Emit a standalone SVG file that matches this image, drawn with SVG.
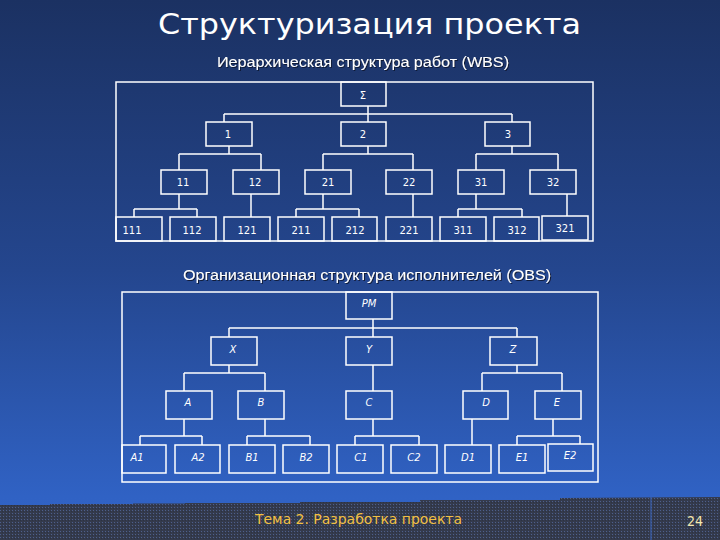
<svg xmlns="http://www.w3.org/2000/svg" width="720" height="540" viewBox="0 0 720 540">
<defs>
<linearGradient id="bg" x1="0" y1="0" x2="0" y2="1">
<stop offset="0" stop-color="#1b3162"/>
<stop offset="0.5" stop-color="#24468e"/>
<stop offset="0.92" stop-color="#3062c4"/>
<stop offset="1" stop-color="#3264c8"/>
</linearGradient>
<pattern id="dots" width="3" height="3" patternUnits="userSpaceOnUse">
<rect width="3" height="3" fill="#343a4c"/>
<rect x="0" y="0" width="1" height="1" fill="#4d5f8c"/>
<rect x="2" y="1" width="1" height="1" fill="#2c3242"/>
</pattern>
<filter id="sh" x="-5%" y="-30%" width="110%" height="160%">
<feDropShadow dx="1" dy="1" stdDeviation="0.3" flood-color="#0a1530" flood-opacity="0.9"/>
</filter>
</defs>
<style>
.box{fill:none;stroke:#ffffff;stroke-width:1.5}
.ln{fill:none;stroke:#ffffff;stroke-width:1.5}
.t{font-family:"DejaVu Sans",sans-serif;font-size:10px;fill:#ffffff;text-anchor:middle}
.ti{font-family:"DejaVu Sans",sans-serif;font-size:10px;fill:#ffffff;text-anchor:middle;font-style:italic}
.sub{font-family:"Liberation Sans",Arial,sans-serif;font-size:14px;fill:#ffffff;filter:url(#sh)}
</style>
<rect width="720" height="540" fill="url(#bg)"/>
<polygon points="0,505 50,505 50,504 133,504 133,503.5 185,503.5 185,503 300,503 300,502 420,502 420,500 560,500 560,498 720,497 720,540 0,540" fill="url(#dots)"/>
<line x1="651" y1="497" x2="651" y2="540" stroke="#3a66c0" stroke-width="1"/>

<text x="158" y="34" font-family="DejaVu Sans,sans-serif" font-size="28" fill="#ffffff" textLength="423" lengthAdjust="spacingAndGlyphs">Структуризация проекта</text>
<text class="sub" x="217" y="67" textLength="292" lengthAdjust="spacingAndGlyphs">Иерархическая структура работ  (WBS)</text>
<text class="sub" x="183" y="280" textLength="368" lengthAdjust="spacingAndGlyphs">Организационная структура исполнителей  (OBS)</text>

<text x="255" y="524" font-family="DejaVu Sans,sans-serif" font-size="13.5" fill="#f2c043" textLength="207" lengthAdjust="spacingAndGlyphs">Тема 2. Разработка проекта</text>
<text x="687" y="526" font-family="DejaVu Sans,sans-serif" font-size="14" fill="#f4e8b0" textLength="16" lengthAdjust="spacingAndGlyphs">24</text>

<g id="wbs-frame"><rect class="box" x="116" y="82" width="477" height="159"/></g>

<g id="connectors">
<path class="ln" d="M368,106 V114 M224,114 H512 M224,114 V122 M368,114 V122 M512,114 V122"/>
<path class="ln" d="M229,146 V154 M179,154 H261 M179,154 V170 M261,154 V170"/>
<path class="ln" d="M368,146 V154 M323,154 H413 M323,154 V170 M413,154 V170"/>
<path class="ln" d="M512,146 V154 M476,154 H558 M476,154 V170 M558,154 V170"/>
<path class="ln" d="M179,194 V209 M134,209 H197 M134,209 V217 M197,209 V217"/>
<path class="ln" d="M251,194 V217"/>
<path class="ln" d="M323,194 V209 M296,209 H359 M296,209 V217 M359,209 V217"/>
<path class="ln" d="M413,194 V217"/>
<path class="ln" d="M476,194 V209 M458,209 H522 M458,209 V217 M522,209 V217"/>
<path class="ln" d="M567,194 V216"/>
<path class="ln" d="M373,319 V328 M229,328 H517 M229,328 V337 M373,328 V337 M517,328 V337"/>
<path class="ln" d="M229,365 V373 M184,373 H265 M184,373 V391 M265,373 V391"/>
<path class="ln" d="M373,365 V391"/>
<path class="ln" d="M517,365 V373 M482,373 H562 M482,373 V391 M562,373 V391"/>
<path class="ln" d="M184,419 V436 M140,436 H202 M140,436 V445 M202,436 V445"/>
<path class="ln" d="M265,419 V436 M247,436 H310 M247,436 V445 M310,436 V445"/>
<path class="ln" d="M373,419 V436 M355,436 H419 M355,436 V445 M419,436 V445"/>
<path class="ln" d="M472,419 V445"/>
<path class="ln" d="M553,419 V436 M517,436 H580 M517,436 V445 M580,436 V444"/>
</g>

<g id="n-sum"><rect class="box" x="341" y="82" width="45" height="24"/><text class="t" x="363" y="99">Σ</text></g>
<g id="n-1"><rect class="box" x="206" y="122" width="46" height="24"/><text class="t" x="228" y="138">1</text></g>
<g id="n-2"><rect class="box" x="341" y="122" width="45" height="24"/><text class="t" x="363" y="138">2</text></g>
<g id="n-3"><rect class="box" x="485" y="122" width="45" height="24"/><text class="t" x="508" y="138">3</text></g>
<g id="n-11"><rect class="box" x="161" y="170" width="46" height="24"/><text class="t" x="183" y="186">11</text></g>
<g id="n-12"><rect class="box" x="233" y="170" width="46" height="24"/><text class="t" x="255" y="186">12</text></g>
<g id="n-21"><rect class="box" x="305" y="170" width="46" height="24"/><text class="t" x="328" y="186">21</text></g>
<g id="n-22"><rect class="box" x="386" y="170" width="46" height="24"/><text class="t" x="409" y="186">22</text></g>
<g id="n-31"><rect class="box" x="458" y="170" width="46" height="24"/><text class="t" x="481" y="186">31</text></g>
<g id="n-32"><rect class="box" x="530" y="170" width="46" height="24"/><text class="t" x="553" y="186">32</text></g>
<g id="n-111"><rect class="box" x="116" y="217" width="46" height="24"/><text class="t" x="132" y="234">111</text></g>
<g id="n-112"><rect class="box" x="170" y="217" width="46" height="24"/><text class="t" x="192" y="234">112</text></g>
<g id="n-121"><rect class="box" x="224" y="217" width="46" height="24"/><text class="t" x="247" y="234">121</text></g>
<g id="n-211"><rect class="box" x="278" y="217" width="46" height="24"/><text class="t" x="301" y="234">211</text></g>
<g id="n-212"><rect class="box" x="332" y="217" width="45" height="24"/><text class="t" x="355" y="234">212</text></g>
<g id="n-221"><rect class="box" x="386" y="217" width="46" height="24"/><text class="t" x="409" y="234">221</text></g>
<g id="n-311"><rect class="box" x="440" y="217" width="46" height="24"/><text class="t" x="463" y="234">311</text></g>
<g id="n-312"><rect class="box" x="494" y="217" width="45" height="24"/><text class="t" x="517" y="234">312</text></g>
<g id="n-321"><rect class="box" x="542" y="216" width="46" height="24"/><text class="t" x="565" y="232">321</text></g>

<g id="obs-frame"><rect class="box" x="122" y="292" width="476" height="190"/></g>

<g id="n-pm"><rect class="box" x="346" y="292" width="46" height="27"/><text class="ti" x="369" y="307">PM</text></g>
<g id="n-x"><rect class="box" x="211" y="337" width="46" height="28"/><text class="ti" x="233" y="353">X</text></g>
<g id="n-y"><rect class="box" x="346" y="337" width="46" height="28"/><text class="ti" x="369" y="353">Y</text></g>
<g id="n-z"><rect class="box" x="490" y="337" width="47" height="28"/><text class="ti" x="513" y="353">Z</text></g>
<g id="n-a"><rect class="box" x="166" y="391" width="46" height="28"/><text class="ti" x="188" y="406">A</text></g>
<g id="n-b"><rect class="box" x="238" y="391" width="46" height="28"/><text class="ti" x="261" y="406">B</text></g>
<g id="n-c"><rect class="box" x="346" y="391" width="46" height="28"/><text class="ti" x="369" y="406">C</text></g>
<g id="n-d"><rect class="box" x="463" y="391" width="45" height="28"/><text class="ti" x="486" y="406">D</text></g>
<g id="n-e"><rect class="box" x="535" y="391" width="46" height="28"/><text class="ti" x="557" y="406">E</text></g>
<g id="n-a1"><rect class="box" x="122" y="445" width="44" height="28"/><text class="ti" x="137" y="461">A1</text></g>
<g id="n-a2"><rect class="box" x="175" y="445" width="45" height="28"/><text class="ti" x="198" y="461">A2</text></g>
<g id="n-b1"><rect class="box" x="229" y="445" width="46" height="28"/><text class="ti" x="252" y="461">B1</text></g>
<g id="n-b2"><rect class="box" x="283" y="445" width="46" height="28"/><text class="ti" x="306" y="461">B2</text></g>
<g id="n-c1"><rect class="box" x="337" y="445" width="46" height="28"/><text class="ti" x="361" y="461">C1</text></g>
<g id="n-c2"><rect class="box" x="391" y="445" width="46" height="28"/><text class="ti" x="414" y="461">C2</text></g>
<g id="n-d1"><rect class="box" x="445" y="445" width="46" height="28"/><text class="ti" x="468" y="461">D1</text></g>
<g id="n-e1"><rect class="box" x="499" y="445" width="46" height="28"/><text class="ti" x="522" y="461">E1</text></g>
<g id="n-e2"><rect class="box" x="548" y="444" width="45" height="27"/><text class="ti" x="570" y="459">E2</text></g>
</svg>
